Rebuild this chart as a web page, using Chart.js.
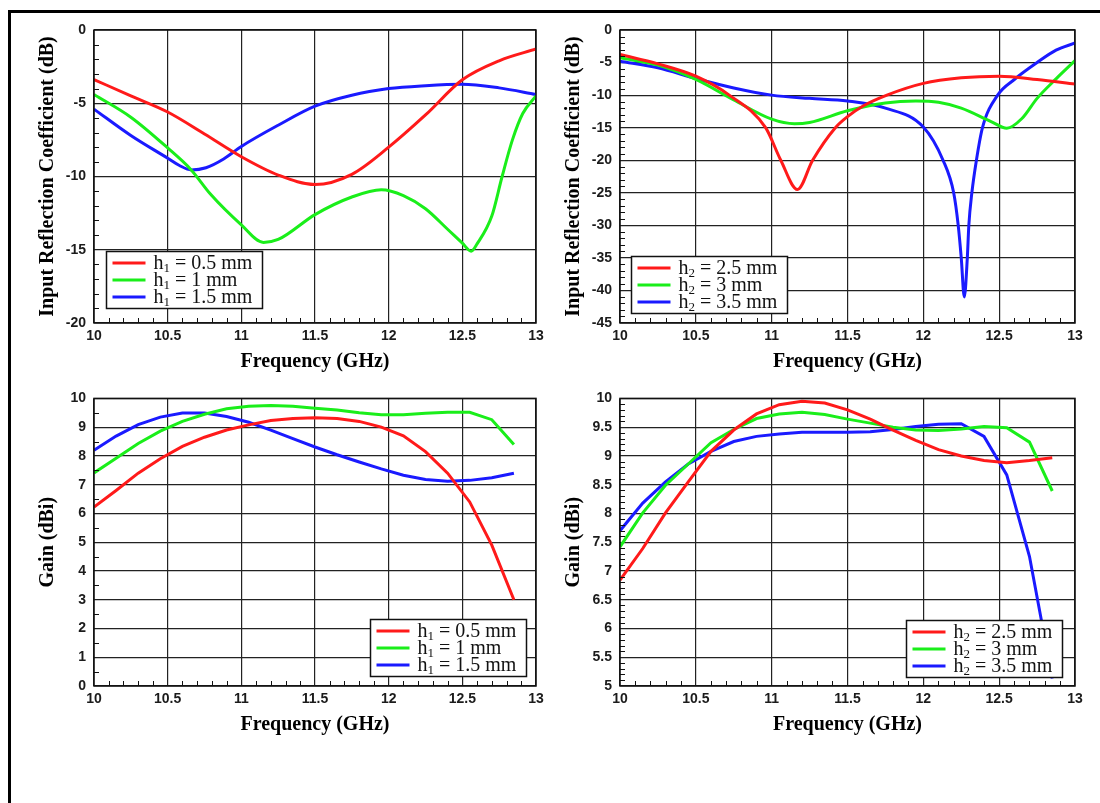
<!DOCTYPE html>
<html>
<head>
<meta charset="utf-8">
<title>Reflection coefficient and gain vs frequency</title>
<script src="https://cdn.jsdelivr.net/npm/chart.js"></script>
<style>
  html, body { margin: 0; padding: 0; background: #fff; }
  body { width: 1100px; height: 803px; position: relative; overflow: hidden; }
  .frame { position: absolute; left: 8px; top: 10px; right: 0; bottom: 0;
           border-left: 3px solid #000; border-top: 3px solid #000; }
  .panel { position: absolute; }
</style>
</head>
<body>
<div class="frame"></div>
<div class="panel" style="left:0;top:12px;width:550px;height:370px"><canvas id="s11H1"></canvas></div>
<div class="panel" style="left:550px;top:12px;width:550px;height:370px"><canvas id="s11H2"></canvas></div>
<div class="panel" style="left:0;top:382px;width:550px;height:363px"><canvas id="gainH1"></canvas></div>
<div class="panel" style="left:550px;top:382px;width:550px;height:363px"><canvas id="gainH2"></canvas></div>

<script>
// ---- input reflection coefficient, h1 sweep (dB)
const h1aFreq = [10, 10.25, 10.5, 10.75, 11, 11.25, 11.5, 11.75, 12, 12.25, 12.5, 12.75, 13];
const h1aS11  = [-3.38, -4.5, -5.6, -7.1, -8.65, -9.9, -10.55, -9.85, -8.0, -5.8, -3.4, -2.1, -1.3];

const h1bFreq = [10, 10.25, 10.5, 10.66, 10.79, 11, 11.15, 11.25, 11.5, 11.75, 11.95, 12.1, 12.25, 12.4, 12.5, 12.56, 12.6, 12.7, 12.77, 12.84, 12.91, 13];
const h1bS11  = [-4.4, -5.95, -8.05, -9.55, -11.2, -13.3, -14.5, -14.3, -12.6, -11.4, -10.9, -11.3, -12.2, -13.6, -14.55, -15.1, -14.6, -12.7, -10.0, -7.5, -5.7, -4.5];

const h1cFreq = [10, 10.25, 10.5, 10.58, 10.66, 10.76, 10.88, 11, 11.25, 11.5, 11.75, 12, 12.25, 12.5, 12.75, 13];
const h1cS11  = [-5.4, -7.2, -8.75, -9.25, -9.55, -9.4, -8.8, -7.95, -6.5, -5.2, -4.45, -4.0, -3.8, -3.7, -3.95, -4.4];

// ---- input reflection coefficient, h2 sweep (dB)
const h2aFreq = [10, 10.25, 10.5, 10.72, 10.96, 11.06, 11.17, 11.27, 11.42, 11.5, 11.6, 11.76, 12, 12.25, 12.5, 12.75, 13];
const h2aS11  = [-3.75, -5.2, -7.1, -10.0, -15.0, -20.0, -24.5, -20.0, -15.0, -13.3, -11.7, -10.0, -8.2, -7.35, -7.1, -7.6, -8.3];

const h2bFreq = [10, 10.25, 10.5, 10.75, 11, 11.15, 11.25, 11.5, 11.75, 11.95, 12.1, 12.25, 12.45, 12.55, 12.65, 12.75, 12.875, 13];
const h2bS11  = [-4.25, -5.4, -7.6, -10.75, -13.7, -14.4, -14.2, -12.4, -11.2, -10.9, -11.1, -12.0, -14.1, -15.1, -13.6, -10.5, -7.5, -4.7];

const h2cFreq = [10, 10.25, 10.5, 10.75, 11, 11.25, 11.5, 11.75, 12, 12.13, 12.2, 12.23, 12.25, 12.27, 12.29, 12.3, 12.32, 12.35, 12.39, 12.49, 12.6, 12.75, 12.875, 13];
const h2cS11  = [-4.8, -5.8, -7.45, -8.9, -10.0, -10.5, -10.9, -12.0, -14.9, -20, -25, -30, -35, -41, -35, -30, -25, -20, -15, -10, -7.6, -5.0, -3.1, -2.0];

// ---- gain (dBi), sampled every 0.15 GHz
const gainFreq = [10, 10.15, 10.3, 10.45, 10.6, 10.75, 10.9, 11.05, 11.2, 11.35, 11.5, 11.65, 11.8, 11.95, 12.1, 12.25, 12.4, 12.55, 12.7, 12.85];

const gainH1a = [6.22, 6.8, 7.4, 7.9, 8.33, 8.65, 8.9, 9.08, 9.23, 9.3, 9.33, 9.3, 9.2, 9.0, 8.7, 8.15, 7.4, 6.4, 4.9, 3.0];
const gainH1b = [7.41, 7.92, 8.43, 8.86, 9.2, 9.45, 9.64, 9.73, 9.75, 9.73, 9.66, 9.6, 9.5, 9.43, 9.43, 9.48, 9.52, 9.52, 9.26, 8.4];
const gainH1c = [8.2, 8.69, 9.09, 9.35, 9.49, 9.49, 9.37, 9.17, 8.9, 8.6, 8.31, 8.04, 7.79, 7.55, 7.33, 7.18, 7.12, 7.15, 7.24, 7.4];

const gainH2a = [6.84, 7.39, 8.01, 8.55, 9.08, 9.45, 9.73, 9.89, 9.95, 9.92, 9.8, 9.64, 9.45, 9.27, 9.11, 9.0, 8.92, 8.88, 8.92, 8.97];
const gainH2b = [7.42, 8.01, 8.49, 8.86, 9.23, 9.46, 9.65, 9.73, 9.76, 9.72, 9.64, 9.57, 9.5, 9.45, 9.44, 9.47, 9.51, 9.49, 9.24, 8.39];
const gainH2c = [7.7, 8.18, 8.55, 8.86, 9.08, 9.25, 9.34, 9.38, 9.41, 9.41, 9.41, 9.42, 9.46, 9.51, 9.55, 9.56, 9.34, 8.67, 7.25, 5.13];

// legend text pieces: "h", subscript, remainder
const h1Labels = [' = 0.5 mm', ' = 1 mm', ' = 1.5 mm'];
const h2Labels = [' = 2.5 mm', ' = 3 mm', ' = 3.5 mm'];

const RED = '#ff1a1a', GREEN = '#1aee1a', BLUE = '#1a1aff';

// inward minor ticks on the left/bottom axes plus a closed frame round the plot
const panelDecor = {
  id: 'panelDecor',
  afterDatasetsDraw(chart, args, opts) {
    const { ctx, chartArea: a, scales: { x, y } } = chart;
    ctx.save();
    ctx.strokeStyle = '#111';
    ctx.lineWidth = 1;
    ctx.beginPath();
    const nx = Math.round((x.max - x.min) / opts.xMinor);
    for (let i = 1; i < nx; i++) {
      const v = x.min + i * opts.xMinor;
      if (Math.abs(v / opts.xMajor - Math.round(v / opts.xMajor)) < 1e-6) continue;
      const px = Math.round(x.getPixelForValue(v)) + 0.5;
      ctx.moveTo(px, a.bottom);
      ctx.lineTo(px, a.bottom - 5);
    }
    const ny = Math.round((y.max - y.min) / opts.yMinor);
    for (let i = 1; i < ny; i++) {
      const v = y.min + i * opts.yMinor;
      if (Math.abs(v / opts.yMajor - Math.round(v / opts.yMajor)) < 1e-6) continue;
      const py = Math.round(y.getPixelForValue(v)) + 0.5;
      ctx.moveTo(a.left, py);
      ctx.lineTo(a.left + 5, py);
    }
    ctx.stroke();
    ctx.lineWidth = 1.5;
    ctx.strokeRect(a.left, a.top, a.width, a.height);
    ctx.restore();
  }
};

// boxed legend with subscripted labels, drawn on top of the curves
const boxLegend = {
  id: 'boxLegend',
  afterDraw(chart, args, opts) {
    const { ctx, chartArea: a } = chart;
    const sets = chart.data.datasets;
    const rowH = 17, lineLen = 33, padL = 6, gap = 8, padR = 10;
    const main = '20px "Liberation Serif"', small = '13px "Liberation Serif"';
    ctx.save();
    let textW = 0;
    sets.forEach(d => {
      ctx.font = main;
      let w = ctx.measureText('h').width + ctx.measureText(d.rest).width;
      ctx.font = small;
      w += ctx.measureText(d.sub).width;
      textW = Math.max(textW, w);
    });
    const boxW = Math.round(padL + lineLen + gap + textW + padR);
    const boxH = rowH * sets.length + 6;
    const bx = Math.round(opts.side === 'left' ? a.left + opts.dx : a.right - opts.dx - boxW) + 0.5;
    const by = Math.round(a.bottom - opts.dy - boxH) + 0.5;
    ctx.fillStyle = '#fff';
    ctx.fillRect(bx, by, boxW, boxH);
    ctx.strokeStyle = '#111';
    ctx.lineWidth = 1.5;
    ctx.strokeRect(bx, by, boxW, boxH);
    sets.forEach((d, i) => {
      const cy = by + 3 + rowH * (i + 0.5);
      ctx.strokeStyle = d.borderColor;
      ctx.lineWidth = 3;
      ctx.beginPath();
      ctx.moveTo(bx + padL, cy);
      ctx.lineTo(bx + padL + lineLen, cy);
      ctx.stroke();
      let tx = bx + padL + lineLen + gap;
      const base = cy + 6;
      ctx.fillStyle = '#111';
      ctx.textBaseline = 'alphabetic';
      ctx.textAlign = 'left';
      ctx.font = main;
      ctx.fillText('h', tx, base);
      tx += ctx.measureText('h').width;
      ctx.font = small;
      ctx.fillText(d.sub, tx, base + 3);
      tx += ctx.measureText(d.sub).width;
      ctx.font = main;
      ctx.fillText(d.rest, tx, base);
    });
    ctx.restore();
  }
};

const tickFont = { family: '"Liberation Sans", Arial, sans-serif', size: 14, weight: 'bold' };
const titleFont = { family: '"Liberation Serif", "Times New Roman", serif', size: 20, weight: 'bold' };
const plainNumber = v => String(Math.round(v * 100) / 100);

function makeChart(id, o) {
  return new Chart(document.getElementById(id), {
    type: 'line',
    data: {
      datasets: o.series.map(s => ({
        label: 'h' + o.sub + s.rest,
        data: s.x.map((f, i) => ({ x: f, y: s.y[i] })),
        borderColor: s.color,
        borderWidth: 3,
        pointRadius: 0,
        fill: false,
        tension: 0,
        cubicInterpolationMode: o.smooth ? 'monotone' : 'default',
        sub: o.sub,
        rest: s.rest
      }))
    },
    options: {
      responsive: true,
      maintainAspectRatio: false,
      animation: false,
      events: [],
      layout: { padding: o.padding },
      plugins: {
        legend: { display: false },
        tooltip: { enabled: false },
        panelDecor: { xMajor: 0.5, xMinor: 0.1, yMajor: o.yStep, yMinor: o.yMinor },
        boxLegend: o.legend
      },
      scales: {
        x: {
          type: 'linear',
          min: 10,
          max: 13,
          ticks: { stepSize: 0.5, font: tickFont, color: '#1b1b1b', padding: 5, maxRotation: 0, callback: plainNumber },
          grid: { color: '#222', lineWidth: 1.2, drawTicks: false },
          border: { display: false },
          title: { display: true, text: 'Frequency (GHz)', font: titleFont, color: '#000', padding: { top: 0, bottom: 8 } },
          afterFit: s => { s.height = 59; }
        },
        y: {
          type: 'linear',
          min: o.yMin,
          max: o.yMax,
          ticks: { stepSize: o.yStep, font: tickFont, color: '#1b1b1b', padding: 8, callback: plainNumber },
          grid: { color: '#222', lineWidth: 1.2, drawTicks: false },
          border: { display: false },
          title: { display: true, text: o.yTitle, font: titleFont, color: '#000', padding: { top: o.yTitlePad, bottom: 0 } },
          afterFit: s => { s.width = o.yWidth; }
        }
      }
    },
    plugins: [panelDecor, boxLegend]
  });
}

makeChart('s11H1', {
  smooth: true, sub: '1',
  yMin: -20, yMax: 0, yStep: 5, yMinor: 1,
  yTitle: 'Input Reflection Coefficient (dB)', yTitlePad: 36, yWidth: 94,
  padding: { left: 0, right: 14, top: 18, bottom: 0 },
  legend: { side: 'left', dx: 12, dy: 15 },
  series: [
    { x: h1aFreq, y: h1aS11, color: RED, rest: h1Labels[0] },
    { x: h1bFreq, y: h1bS11, color: GREEN, rest: h1Labels[1] },
    { x: h1cFreq, y: h1cS11, color: BLUE, rest: h1Labels[2] }
  ]
});

makeChart('s11H2', {
  smooth: true, sub: '2',
  yMin: -45, yMax: 0, yStep: 5, yMinor: 1,
  yTitle: 'Input Reflection Coefficient (dB)', yTitlePad: 12, yWidth: 70,
  padding: { left: 0, right: 25, top: 18, bottom: 0 },
  legend: { side: 'left', dx: 11, dy: 10 },
  series: [
    { x: h2aFreq, y: h2aS11, color: RED, rest: h2Labels[0] },
    { x: h2bFreq, y: h2bS11, color: GREEN, rest: h2Labels[1] },
    { x: h2cFreq, y: h2cS11, color: BLUE, rest: h2Labels[2] }
  ]
});

makeChart('gainH1', {
  smooth: false, sub: '1',
  yMin: 0, yMax: 10, yStep: 1, yMinor: 0.5,
  yTitle: 'Gain (dBi)', yTitlePad: 36, yWidth: 94,
  padding: { left: 0, right: 14, top: 10, bottom: 0 },
  legend: { side: 'right', dx: 10, dy: 10 },
  series: [
    { x: gainFreq, y: gainH1a, color: RED, rest: h1Labels[0] },
    { x: gainFreq, y: gainH1b, color: GREEN, rest: h1Labels[1] },
    { x: gainFreq, y: gainH1c, color: BLUE, rest: h1Labels[2] }
  ]
});

makeChart('gainH2', {
  smooth: false, sub: '2',
  yMin: 5, yMax: 10, yStep: 0.5, yMinor: 0.1,
  yTitle: 'Gain (dBi)', yTitlePad: 12, yWidth: 70,
  padding: { left: 0, right: 25, top: 10, bottom: 0 },
  legend: { side: 'right', dx: 13, dy: 9 },
  series: [
    { x: gainFreq, y: gainH2a, color: RED, rest: h2Labels[0] },
    { x: gainFreq, y: gainH2b, color: GREEN, rest: h2Labels[1] },
    { x: gainFreq, y: gainH2c, color: BLUE, rest: h2Labels[2] }
  ]
});
</script>
</body>
</html>
